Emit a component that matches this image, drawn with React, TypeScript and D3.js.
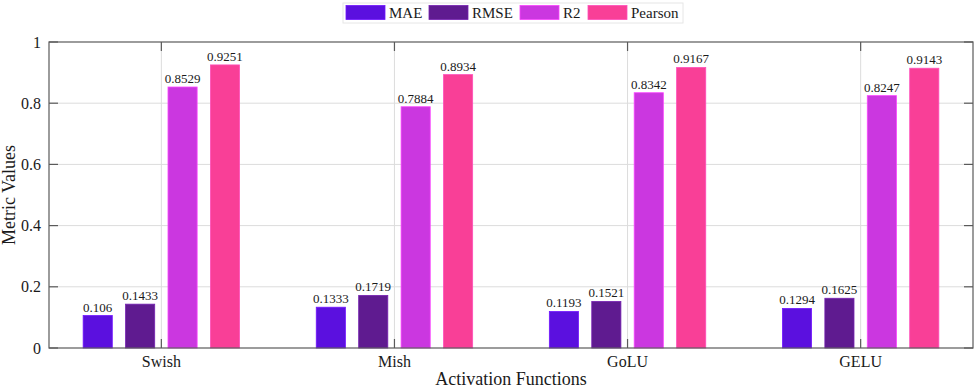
import { useRef, useEffect } from 'react';
import * as d3 from 'd3';

const categories = ['Swish', 'Mish', 'GoLU', 'GELU'];
const series = ['MAE', 'RMSE', 'R2', 'Pearson'];
const maeValues = [0.106, 0.1333, 0.1193, 0.1294];
const rmseValues = [0.1433, 0.1719, 0.1521, 0.1625];
const r2Values = [0.8529, 0.7884, 0.8342, 0.8247];
const pearsonValues = [0.9251, 0.8934, 0.9167, 0.9143];
const yTicks = [0, 0.2, 0.4, 0.6, 0.8, 1];

const COLORS = ['#5b10df', '#5f1b90', '#cb37e0', '#f93f97'];
const FONT = 'Liberation Serif';

export default function App() {
  const svgRef = useRef<SVGSVGElement>(null);

  useEffect(() => {
    const width = 975;
    const height = 390;
    const margin = { top: 42, right: 2, bottom: 42, left: 49 };
    const w = width - margin.left - margin.right;
    const h = height - margin.top - margin.bottom;

    const svg = d3.select(svgRef.current);
    svg.selectAll('*').remove();

    const values = [maeValues, rmseValues, r2Values, pearsonValues];

    const g = svg
      .append('g')
      .attr('transform', `translate(${margin.left},${margin.top})`)
      .style('font-family', FONT);

    const x = d3.scaleLinear().domain([0.518, 4.482]).range([0, w]);
    const y = d3.scaleLinear().domain([0, 1]).range([h, 0]);
    const offsets = [-0.273, -0.091, 0.091, 0.273];
    const barW = x(0.125) - x(0);

    // grid
    g.selectAll('.ygrid')
      .data(yTicks.slice(1, -1))
      .join('line')
      .attr('x1', 0)
      .attr('x2', w)
      .attr('y1', (d) => y(d))
      .attr('y2', (d) => y(d))
      .attr('stroke', '#dcdcdc')
      .attr('stroke-width', 1);

    g.selectAll('.xgrid')
      .data(categories)
      .join('line')
      .attr('x1', (_, i) => x(i + 1))
      .attr('x2', (_, i) => x(i + 1))
      .attr('y1', 0)
      .attr('y2', h)
      .attr('stroke', '#dcdcdc')
      .attr('stroke-width', 1);

    // bars
    series.forEach((s, si) => {
      g.selectAll(`.bar-${si}`)
        .data(values[si])
        .join('rect')
        .attr('x', (_, i) => x(i + 1 + offsets[si]) - barW / 2)
        .attr('y', (d) => y(d))
        .attr('width', barW)
        .attr('height', (d) => h - y(d))
        .attr('fill', COLORS[si])
        .attr('stroke', d3.color(COLORS[si])!.brighter(0.6).toString())
        .attr('stroke-width', 0.8);

      g.selectAll(`.lbl-${si}`)
        .data(values[si])
        .join('text')
        .attr('x', (_, i) => x(i + 1 + offsets[si]))
        .attr('y', (d) => y(d) - 4)
        .attr('text-anchor', 'middle')
        .attr('font-size', 13)
        .attr('fill', '#1a1a1a')
        .text((d) => String(d));
    });

    // box
    g.append('rect')
      .attr('x', 0)
      .attr('y', 0)
      .attr('width', w)
      .attr('height', h)
      .attr('fill', 'none')
      .attr('stroke', '#5a5a5a')
      .attr('stroke-width', 1.2);

    // y ticks (inside, both sides)
    yTicks.forEach((t) => {
      g.append('line')
        .attr('x1', 0).attr('x2', 9)
        .attr('y1', y(t)).attr('y2', y(t))
        .attr('stroke', '#5a5a5a').attr('stroke-width', 1.2);
      g.append('line')
        .attr('x1', w).attr('x2', w - 9)
        .attr('y1', y(t)).attr('y2', y(t))
        .attr('stroke', '#5a5a5a').attr('stroke-width', 1.2);
      g.append('text')
        .attr('x', -8)
        .attr('y', y(t))
        .attr('dy', '0.35em')
        .attr('text-anchor', 'end')
        .attr('font-size', 16)
        .attr('fill', '#1a1a1a')
        .text(d3.format('~g')(t));
    });

    // x ticks
    categories.forEach((c, i) => {
      g.append('line')
        .attr('x1', x(i + 1)).attr('x2', x(i + 1))
        .attr('y1', h).attr('y2', h - 9)
        .attr('stroke', '#5a5a5a').attr('stroke-width', 1.2);
      g.append('line')
        .attr('x1', x(i + 1)).attr('x2', x(i + 1))
        .attr('y1', 0).attr('y2', 9)
        .attr('stroke', '#5a5a5a').attr('stroke-width', 1.2);
      g.append('text')
        .attr('x', x(i + 1))
        .attr('y', h + 19)
        .attr('text-anchor', 'middle')
        .attr('font-size', 16)
        .attr('fill', '#1a1a1a')
        .text(c);
    });

    // axis titles
    g.append('text')
      .attr('x', w / 2)
      .attr('y', h + 37)
      .attr('text-anchor', 'middle')
      .attr('font-size', 18)
      .attr('fill', '#1a1a1a')
      .text('Activation Functions');

    g.append('text')
      .attr('transform', 'rotate(-90)')
      .attr('x', -h / 2)
      .attr('y', -34)
      .attr('text-anchor', 'middle')
      .attr('font-size', 18)
      .attr('fill', '#1a1a1a')
      .text('Metric Values');

    // legend
    const legend = svg
      .append('g')
      .attr('transform', 'translate(343,3)')
      .style('font-family', FONT);
    legend.append('rect')
      .attr('x', 0).attr('y', 0)
      .attr('width', 340).attr('height', 20)
      .attr('fill', '#fff')
      .attr('stroke', '#e6e6e6')
      .attr('stroke-width', 1);
    const itemX = [3, 86, 177, 245];
    series.forEach((s, si) => {
      legend.append('rect')
        .attr('x', itemX[si]).attr('y', 2.5)
        .attr('width', 39).attr('height', 14)
        .attr('fill', COLORS[si])
        .attr('stroke', d3.color(COLORS[si])!.brighter(0.6).toString())
        .attr('stroke-width', 0.8);
      legend.append('text')
        .attr('x', itemX[si] + 43)
        .attr('y', 15)
        .attr('font-size', 15)
        .attr('fill', '#1a1a1a')
        .text(s);
    });
  }, []);

  return (
    <svg
      ref={svgRef}
      width={975}
      height={390}
      style={{ position: 'absolute', left: 0, top: 0, background: '#fff' }}
    />
  );
}
